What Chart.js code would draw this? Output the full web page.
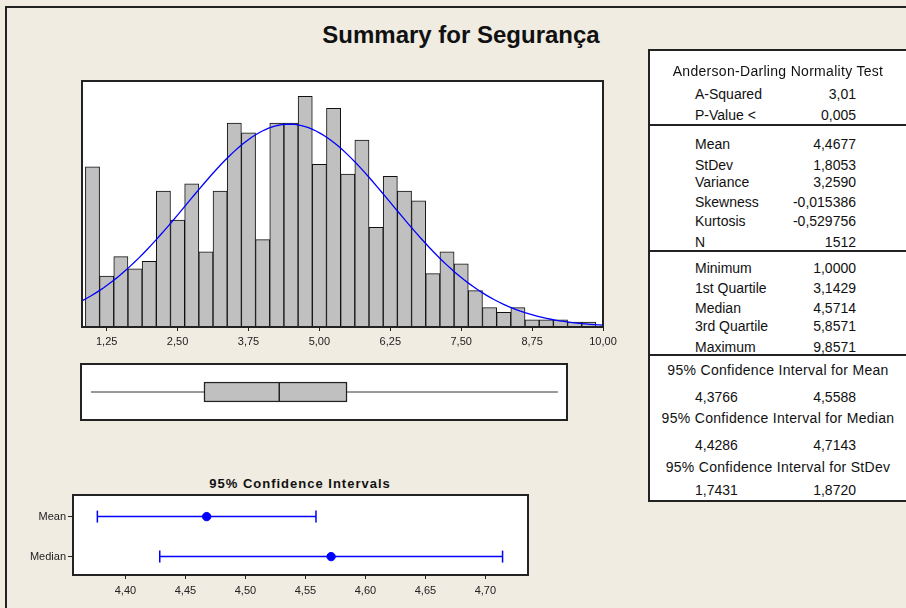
<!DOCTYPE html>
<html>
<head>
<meta charset="utf-8">
<script src="https://cdn.jsdelivr.net/npm/chart.js@4.4.1/dist/chart.umd.min.js"></script>
<style>
  body { margin: 0; width: 906px; height: 608px; overflow: hidden; position: relative;
         background: #f0ece2; font-family: "Liberation Sans", Arial, sans-serif; color: #111; }
  #outer { position: absolute; left: 5px; top: 6px; width: 960px; height: 660px; border: 2px solid #222; }
  canvas { position: absolute; }
  #title { position: absolute; left: 261px; top: 21px; width: 400px; text-align: center;
           font-weight: bold; font-size: 24px; line-height: 28px; }
  #cititle { position: absolute; left: 150px; top: 476px; width: 300px; text-align: center;
             font-weight: bold; font-size: 13px; line-height: 16px; letter-spacing: 1px; }
  #table { position: absolute; left: 648px; top: 49px; width: 300px; height: 453px;
           box-sizing: border-box; border: 2px solid #222; background: #fff; }
  .sep { position: absolute; left: 648px; width: 300px; height: 2px; background: #222; }
  .t { position: absolute; font-size: 14px; line-height: 16px; white-space: nowrap; }
  .l { left: 695px; }
  .v { left: 756px; width: 100px; text-align: right; }
  .h { left: 628px; width: 300px; text-align: center; letter-spacing: 0.3px; }
</style>
</head>
<body>
<div id="outer"></div>
<div id="title">Summary for Segurança</div>

<canvas id="hist" width="570" height="287" style="left:60px; top:70px"></canvas>
<canvas id="box" width="492" height="62" style="left:78px; top:361px"></canvas>
<div id="cititle">95% Confidence Intervals</div>
<canvas id="ci" width="540" height="114" style="left:8px; top:485px"></canvas>

<div id="table"></div>
<div class="sep" style="top:124px"></div>
<div class="sep" style="top:250px"></div>
<div class="sep" style="top:354px"></div>

<div class="t h" style="top:63px">Anderson-Darling Normality Test</div>
<div class="t l" style="top:86px">A-Squared</div><div class="t v" style="top:86px">3,01</div>
<div class="t l" style="top:107px">P-Value &lt;</div><div class="t v" style="top:107px">0,005</div>

<div class="t l" style="top:136px">Mean</div><div class="t v" style="top:136px">4,4677</div>
<div class="t l" style="top:157px">StDev</div><div class="t v" style="top:157px">1,8053</div>
<div class="t l" style="top:174px">Variance</div><div class="t v" style="top:174px">3,2590</div>
<div class="t l" style="top:194px">Skewness</div><div class="t v" style="top:194px">-0,015386</div>
<div class="t l" style="top:213px">Kurtosis</div><div class="t v" style="top:213px">-0,529756</div>
<div class="t l" style="top:234px">N</div><div class="t v" style="top:234px">1512</div>

<div class="t l" style="top:260px">Minimum</div><div class="t v" style="top:260px">1,0000</div>
<div class="t l" style="top:280px">1st Quartile</div><div class="t v" style="top:280px">3,1429</div>
<div class="t l" style="top:300px">Median</div><div class="t v" style="top:300px">4,5714</div>
<div class="t l" style="top:318px">3rd Quartile</div><div class="t v" style="top:318px">5,8571</div>
<div class="t l" style="top:339px">Maximum</div><div class="t v" style="top:339px">9,8571</div>

<div class="t h" style="top:362px">95% Confidence Interval for Mean</div>
<div class="t l" style="top:389px">4,3766</div><div class="t v" style="top:389px">4,5588</div>
<div class="t h" style="top:410px">95% Confidence Interval for Median</div>
<div class="t l" style="top:437px">4,4286</div><div class="t v" style="top:437px">4,7143</div>
<div class="t h" style="top:459px">95% Confidence Interval for StDev</div>
<div class="t l" style="top:482px">1,7431</div><div class="t v" style="top:482px">1,8720</div>

<script>
// histogram bins (width 0,25)
const BIN_CENTERS = [1.00, 1.25, 1.50, 1.75, 2.00, 2.25, 2.50, 2.75, 3.00, 3.25, 3.50, 3.75,
                     4.00, 4.25, 4.50, 4.75, 5.00, 5.25, 5.50, 5.75, 6.00, 6.25, 6.50, 6.75,
                     7.00, 7.25, 7.50, 7.75, 8.00, 8.25, 8.50, 8.75, 9.00, 9.25, 9.50, 9.75];
const BIN_COUNTS = [66, 21, 29, 24, 27, 56, 44, 59, 31, 56, 84, 80,
                    36, 84, 84, 95, 67, 90, 63, 77, 41, 62, 56, 52,
                    22, 31, 26, 15, 8, 6, 8, 3, 3, 3, 2, 2];
const BIN_WIDTH = 0.25;
const HIST_TICKS = [1.25, 2.50, 3.75, 5.00, 6.25, 7.50, 8.75, 10.00];

// summary stats (from the table)
const N = 1512;
const MEAN = 4.4677;
const STDEV = 1.8053;
const BOX_STATS = [1.0000, 3.1429, 4.5714, 5.8571, 9.8571]; // min, q1, median, q3, max

// 95% confidence intervals
const CI_ROWS = ['Mean', 'Median'];
const CI_LOW = [4.3766, 4.4286];
const CI_EST = [4.4677, 4.5714];
const CI_HIGH = [4.5588, 4.7143];
const CI_TICKS = [4.40, 4.45, 4.50, 4.55, 4.60, 4.65, 4.70];

const fmt = v => v.toFixed(2).replace('.', ',');
const tickFont = { family: '"Liberation Sans", Arial, sans-serif', size: 11 };

// white plot area + black frame like minitab
const frame = {
    id: 'frame',
    beforeDraw(chart) {
        const { ctx, chartArea: a } = chart;
        ctx.save();
        ctx.fillStyle = '#fff';
        ctx.fillRect(a.left, a.top, a.width, a.height);
        ctx.restore();
    },
    afterDraw(chart) {
        const { ctx, chartArea: a } = chart;
        ctx.save();
        ctx.strokeStyle = '#222';
        ctx.lineWidth = 2;
        ctx.strokeRect(a.left, a.top, a.width, a.height);
        ctx.restore();
    }
};

// fitted normal curve, scaled to counts (from mean / stdev in the table)
const X_MIN = 0.815, X_MAX = 10.0;
const curve = [];
for (let i = 0; i <= 120; i++) {
    const x = X_MIN + (X_MAX - X_MIN) * i / 120;
    const z = (x - MEAN) / STDEV;
    curve.push({ x: x, y: N * BIN_WIDTH * Math.exp(-z * z / 2) / (STDEV * Math.sqrt(2 * Math.PI)) });
}

new Chart(document.getElementById('hist'), {
    type: 'bar',
    data: {
        datasets: [{
            type: 'line',
            data: curve,
            borderColor: '#0000ff',
            borderWidth: 1.3,
            pointRadius: 0,
            order: 0
        }, {
            type: 'bar',
            data: BIN_CENTERS.map((x, i) => ({ x: x, y: BIN_COUNTS[i] })),
            backgroundColor: '#c0c0c0',
            borderColor: '#111',
            borderWidth: 1,
            barPercentage: 1,
            categoryPercentage: 1,
            order: 1
        }]
    },
    options: {
        responsive: false,
        animation: false,
        layout: { padding: { left: 22, right: 27, top: 11, bottom: 0 } },
        plugins: { legend: { display: false }, tooltip: { enabled: false } },
        scales: {
            x: {
                type: 'linear', min: X_MIN, max: X_MAX, offset: false,
                afterBuildTicks: s => { s.ticks = HIST_TICKS.map(v => ({ value: v })); },
                afterFit: s => { s.height = 30; },
                ticks: { callback: v => fmt(v), font: tickFont, color: '#222', padding: 4, maxRotation: 0, autoSkip: false },
                grid: { drawOnChartArea: false, tickLength: 4, color: '#222', offset: false },
                border: { display: false }
            },
            y: { display: false, min: 0, max: 101.3 }
        }
    },
    plugins: [frame]
});

const [bMin, bQ1, bMed, bQ3, bMax] = BOX_STATS;
new Chart(document.getElementById('box'), {
    type: 'scatter',
    data: {
        datasets: [{
            type: 'line', data: [{ x: bMed, y: 0.33 }, { x: bMed, y: 0.67 }],
            borderColor: '#222', borderWidth: 1.5, pointRadius: 0, order: 0
        }, {
            type: 'bar', indexAxis: 'y', data: [{ x: [bQ1, bQ3], y: 0.5 }],
            backgroundColor: '#c0c0c0', borderColor: '#222', borderWidth: 1.5,
            borderSkipped: false, barThickness: 20, order: 1
        }, {
            type: 'line', data: [{ x: bMin, y: 0.5 }, { x: bQ1, y: 0.5 }],
            borderColor: '#333', borderWidth: 1, pointRadius: 0, order: 2
        }, {
            type: 'line', data: [{ x: bQ3, y: 0.5 }, { x: bMax, y: 0.5 }],
            borderColor: '#333', borderWidth: 1, pointRadius: 0, order: 2
        }]
    },
    options: {
        responsive: false,
        animation: false,
        layout: { padding: 3 },
        plugins: { legend: { display: false }, tooltip: { enabled: false } },
        scales: {
            x: { type: 'linear', display: false, offset: false, min: 0.81, max: 10.03 },
            y: { type: 'linear', display: false, offset: false, grid: { offset: false }, min: 0, max: 1 }
        }
    },
    plugins: [frame]
});

new Chart(document.getElementById('ci'), {
    type: 'scatter',
    data: {
        datasets: CI_ROWS.map((r, i) => ({
            type: 'line',
            label: r,
            data: [{ x: CI_LOW[i], y: i + 1 }, { x: CI_EST[i], y: i + 1 }, { x: CI_HIGH[i], y: i + 1 }],
            borderColor: '#0000ff',
            borderWidth: 1.5,
            pointStyle: ['line', 'circle', 'line'],
            pointRotation: [90, 0, 90],
            pointRadius: [6, 4.2, 6],
            pointBorderWidth: [1.5, 1, 1.5],
            pointBorderColor: '#0000ff',
            pointBackgroundColor: '#0000ff'
        }))
    },
    options: {
        responsive: false,
        animation: false,
        layout: { padding: { left: 5, right: 20, top: 10, bottom: 0 } },
        plugins: { legend: { display: false }, tooltip: { enabled: false } },
        scales: {
            x: {
                type: 'linear', min: 4.3563, max: 4.7355,
                afterBuildTicks: s => { s.ticks = CI_TICKS.map(v => ({ value: v })); },
                afterFit: s => { s.height = 24; },
                ticks: { callback: v => fmt(v), font: tickFont, color: '#222', padding: 5, maxRotation: 0, autoSkip: false },
                grid: { drawOnChartArea: false, tickLength: 4, color: '#222' },
                border: { display: false }
            },
            y: {
                type: 'linear', min: 0.46, max: 2.46, reverse: true,
                afterBuildTicks: s => { s.ticks = CI_ROWS.map((r, i) => ({ value: i + 1 })); },
                afterFit: s => { s.width = 60; },
                ticks: { callback: v => CI_ROWS[v - 1], font: tickFont, color: '#222', padding: 2 },
                grid: { drawOnChartArea: false, tickLength: 5, color: '#222' },
                border: { display: false }
            }
        }
    },
    plugins: [frame]
});
</script>
</body>
</html>
